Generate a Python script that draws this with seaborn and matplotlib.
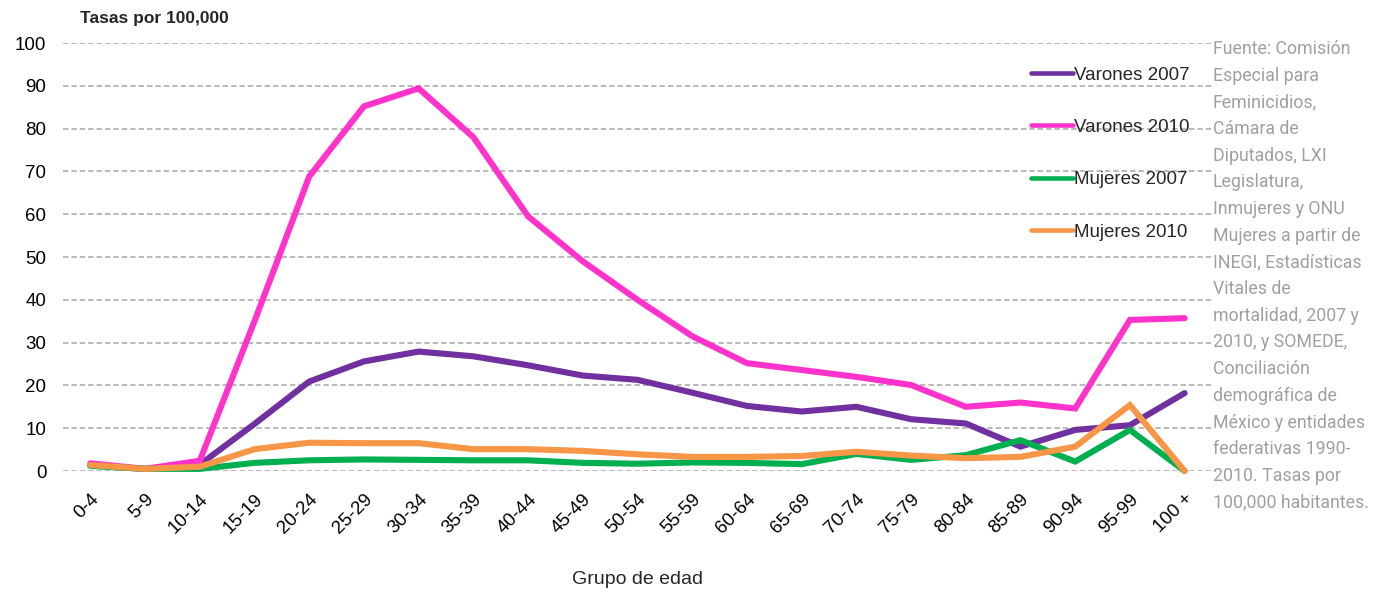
import matplotlib
matplotlib.use("Agg")
import matplotlib.pyplot as plt
import seaborn as sns
import pandas as pd

# Age groups on the x axis
age_groups = ["0-4", "5-9", "10-14", "15-19", "20-24", "25-29", "30-34", "35-39",
              "40-44", "45-49", "50-54", "55-59", "60-64", "65-69", "70-74",
              "75-79", "80-84", "85-89", "90-94", "95-99", "100 +"]

# Homicide rates per 100,000 inhabitants
varones_2007 = [1.3, 0.5, 1.5, 11.0, 20.9, 25.6, 27.9, 26.8, 24.7, 22.3, 21.3,
                18.3, 15.2, 13.9, 15.0, 12.1, 11.1, 5.7, 9.6, 10.7, 18.2]
varones_2010 = [1.8, 0.5, 2.4, 35.0, 68.8, 85.2, 89.4, 78.0, 59.5, 49.0, 40.0,
                31.5, 25.2, 23.6, 22.0, 20.1, 15.0, 16.0, 14.6, 35.3, 35.7]
mujeres_2007 = [1.2, 0.5, 0.5, 1.9, 2.5, 2.7, 2.6, 2.5, 2.5, 1.9, 1.7,
                2.0, 1.9, 1.6, 4.0, 2.6, 3.7, 7.2, 2.2, 9.6, 0.0]
mujeres_2010 = [1.4, 0.5, 1.0, 5.1, 6.6, 6.5, 6.5, 5.1, 5.1, 4.7, 3.9,
                3.3, 3.3, 3.5, 4.5, 3.6, 3.0, 3.3, 5.7, 15.4, 0.0]

series_names = ["Varones 2007", "Varones 2010", "Mujeres 2007", "Mujeres 2010"]
series_colors = ["#7030A0", "#FF33CC", "#00B050", "#F79646"]

y_ticks = [0, 10, 20, 30, 40, 50, 60, 70, 80, 90, 100]

source_lines = ["Fuente: Comisión", "Especial para", "Feminicidios,", "Cámara de",
                "Diputados, LXI", "Legislatura,", "Inmujeres y ONU",
                "Mujeres a partir de", "INEGI, Estadísticas", "Vitales de",
                "mortalidad, 2007 y", "2010, y SOMEDE,", "Conciliación",
                "demográfica de", "México y entidades", "federativas 1990-",
                "2010. Tasas por", "100,000 habitantes."]

frames = []
for name, vals in zip(series_names,
                      [varones_2007, varones_2010, mujeres_2007, mujeres_2010]):
    frames.append(pd.DataFrame({"grupo": age_groups, "tasa": vals, "serie": name}))
df = pd.concat(frames, ignore_index=True)

sns.set_theme(style="white")
plt.rcParams["font.family"] = ["Liberation Sans", "DejaVu Sans"]

fig = plt.figure(figsize=(13.79, 5.92), dpi=100)
ax = fig.add_axes([63 / 1379, 1 - 471 / 592, (1212 - 63) / 1379, (471 - 43) / 592])

sns.lineplot(data=df, x="grupo", y="tasa", hue="serie", hue_order=series_names,
             palette=series_colors, linewidth=4.4, sort=False, ax=ax,
             legend=False, solid_capstyle="round", solid_joinstyle="miter", zorder=3)
for line in ax.get_lines():
    line.set_clip_on(False)

ax.set_xlim(-0.5, len(age_groups) - 0.5)
ax.set_ylim(0, 100)
ax.set_yticks(y_ticks)
ax.set_yticklabels([str(t) for t in y_ticks], fontsize=13.5)
ax.set_xticks(range(len(age_groups)))
ax.set_xticklabels(age_groups, fontsize=13.5, rotation=45, ha="right",
                   rotation_mode="anchor")
ax.tick_params(axis="both", length=0, colors="black")
ax.tick_params(axis="x", pad=14)
ax.tick_params(axis="y", pad=12)
for sp in ax.spines.values():
    sp.set_visible(False)
ax.yaxis.grid(True, color="#A6A6A6", linestyle=(0, (3.5, 2)), linewidth=1.1)
ax.xaxis.grid(False)
ax.set_axisbelow(True)
ax.set_xlabel("")
ax.set_ylabel("")

fig.text(80 / 1379, 1 - 18 / 592, "Tasas por 100,000", fontsize=12.5,
         fontweight="bold", va="center", ha="left")
fig.text(637 / 1379, 1 - 579 / 592, "Grupo de edad", fontsize=14,
         va="center", ha="center")

handles = [plt.Line2D([], [], color=c, linewidth=3.3) for c in series_colors]
leg = ax.legend(handles, series_names, loc="upper left", frameon=False,
                bbox_to_anchor=(1022 / 1379, 1 - 57 / 592),
                bbox_transform=fig.transFigure, fontsize=13.5, handlelength=2.2,
                handletextpad=0.1, labelspacing=1.88, borderpad=0)

fig.text(1213 / 1379, 1 - 40 / 592, "\n".join(source_lines),
         family=["Roboto", "DejaVu Sans"],
         fontsize=12.8, color="#A0A0A0", va="top", ha="left", linespacing=1.62,
         bbox=dict(facecolor="white", edgecolor="none", pad=0))

fig.savefig("out.png", dpi=100, facecolor="white")
